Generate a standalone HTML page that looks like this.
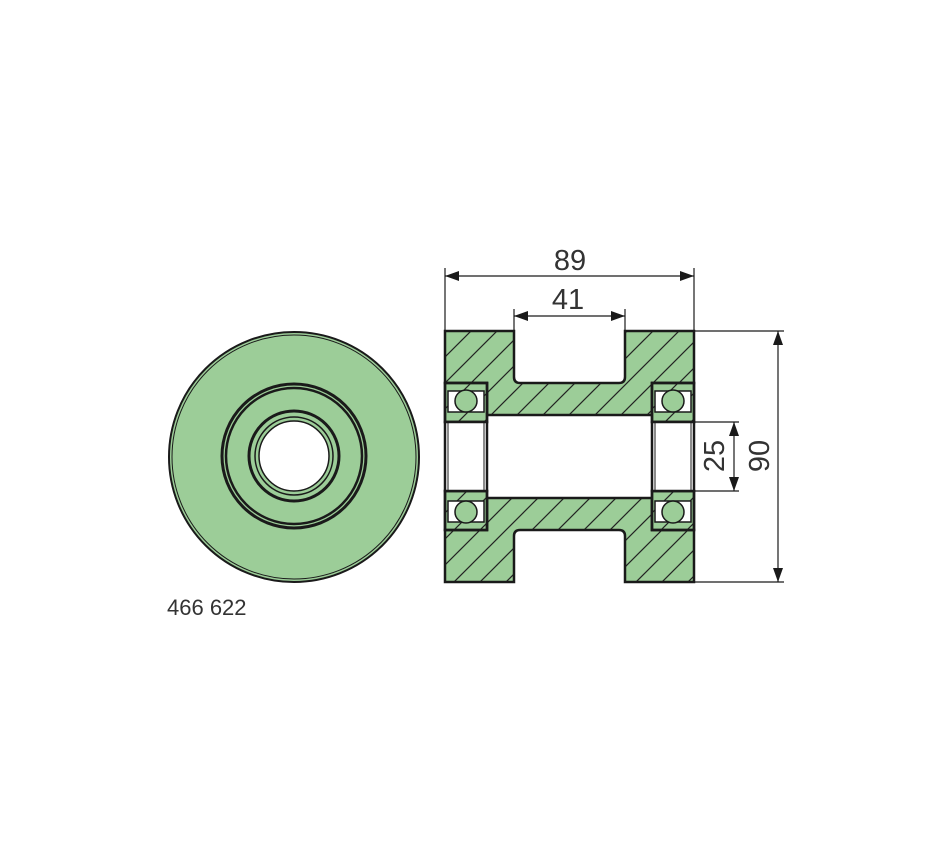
<!DOCTYPE html>
<html><head><meta charset="utf-8"><style>html,body{margin:0;padding:0;background:#fff}svg{display:block}</style></head><body>
<svg width="950" height="860" viewBox="0 0 950 860" xmlns="http://www.w3.org/2000/svg" font-family="'Liberation Sans', sans-serif">
<defs>
<pattern id="h" patternUnits="userSpaceOnUse" width="26" height="26" x="445" y="331">
<line x1="-2" y1="28" x2="28" y2="-2" stroke="#222" stroke-width="1.2"/>
<line x1="-15" y1="15" x2="15" y2="-15" stroke="#222" stroke-width="1.2"/>
<line x1="11" y1="41" x2="41" y2="11" stroke="#222" stroke-width="1.2"/>
</pattern>
</defs>
<g fill="none" stroke="#1a1a1a">
<circle cx="294" cy="457" r="125" fill="#9ccd98" stroke-width="2"/>
<circle cx="294" cy="457" r="122" stroke-width="1"/>
<circle cx="294" cy="456" r="72" stroke-width="3"/>
<circle cx="294" cy="456" r="68" stroke-width="2.5"/>
<circle cx="294" cy="456" r="45" stroke-width="3"/>
<circle cx="294" cy="456" r="39" stroke-width="1.5"/>
<circle cx="294" cy="456" r="35" fill="#fff" stroke-width="1.5"/>
</g>
<text x="167" y="615" font-size="22" fill="#333">466 622</text>
<path d="M445 331 H514 V377 Q514 383 520 383 H619 Q625 383 625 377 V331 H694 V383 H652 V415 H487 V383 H445 Z" fill="#9ccd98" stroke="none"/>
<path d="M445 331 H514 V377 Q514 383 520 383 H619 Q625 383 625 377 V331 H694 V383 H652 V415 H487 V383 H445 Z" fill="url(#h)" stroke="#1a1a1a" stroke-width="2.5"/>
<path d="M445 582 H514 V536 Q514 530 520 530 H619 Q625 530 625 536 V582 H694 V530 H652 V498 H487 V530 H445 Z" fill="#9ccd98" stroke="none"/>
<path d="M445 582 H514 V536 Q514 530 520 530 H619 Q625 530 625 536 V582 H694 V530 H652 V498 H487 V530 H445 Z" fill="url(#h)" stroke="#1a1a1a" stroke-width="2.5"/>
<g stroke="#1a1a1a">
<g>
<rect x="445" y="383" width="42" height="39" fill="#9ccd98" stroke-width="2.5"/>
<rect x="445" y="383" width="42" height="39" fill="url(#h)" stroke-width="2.5"/>
<rect x="448" y="391" width="36" height="21" fill="#fff" stroke-width="1.5"/>
<circle cx="466" cy="401" r="11" fill="#9ccd98" stroke-width="1.5"/>
<rect x="445" y="491" width="42" height="39" fill="#9ccd98" stroke-width="2.5"/>
<rect x="445" y="491" width="42" height="39" fill="url(#h)" stroke-width="2.5"/>
<rect x="448" y="501" width="36" height="21" fill="#fff" stroke-width="1.5"/>
<circle cx="466" cy="512" r="11" fill="#9ccd98" stroke-width="1.5"/>
<rect x="445" y="422" width="42" height="69" fill="#fff" stroke-width="2.5"/>
<rect x="448" y="422" width="36" height="69" fill="none" stroke-width="1"/>
</g>
<g transform="translate(207,0)">
<rect x="445" y="383" width="42" height="39" fill="#9ccd98" stroke-width="2.5"/>
<rect x="445" y="383" width="42" height="39" fill="url(#h)" stroke-width="2.5"/>
<rect x="448" y="391" width="36" height="21" fill="#fff" stroke-width="1.5"/>
<circle cx="466" cy="401" r="11" fill="#9ccd98" stroke-width="1.5"/>
<rect x="445" y="491" width="42" height="39" fill="#9ccd98" stroke-width="2.5"/>
<rect x="445" y="491" width="42" height="39" fill="url(#h)" stroke-width="2.5"/>
<rect x="448" y="501" width="36" height="21" fill="#fff" stroke-width="1.5"/>
<circle cx="466" cy="512" r="11" fill="#9ccd98" stroke-width="1.5"/>
<rect x="445" y="422" width="42" height="69" fill="#fff" stroke-width="2.5"/>
<rect x="448" y="422" width="36" height="69" fill="none" stroke-width="1"/>
</g>
</g>
<g stroke="#1a1a1a" stroke-width="1.2" fill="none">
<line x1="445" y1="268" x2="445" y2="331"/>
<line x1="694" y1="268" x2="694" y2="331"/>
<line x1="445" y1="276" x2="694" y2="276"/>
<line x1="514" y1="309" x2="514" y2="331"/>
<line x1="625" y1="309" x2="625" y2="331"/>
<line x1="514" y1="316" x2="625" y2="316"/>
<line x1="694" y1="331" x2="784" y2="331"/>
<line x1="694" y1="582" x2="784" y2="582"/>
<line x1="778" y1="331" x2="778" y2="582"/>
<line x1="694" y1="422" x2="739" y2="422"/>
<line x1="694" y1="491" x2="739" y2="491"/>
<line x1="734" y1="422" x2="734" y2="491"/>
</g>
<g fill="#1a1a1a">
<path d="M445 276 l14 -5 v10 z"/><path d="M694 276 l-14 -5 v10 z"/>
<path d="M514 316 l14 -5 v10 z"/><path d="M625 316 l-14 -5 v10 z"/>
<path d="M778 331 l-5 14 h10 z"/><path d="M778 582 l-5 -14 h10 z"/>
<path d="M734 422 l-5 14 h10 z"/><path d="M734 491 l-5 -14 h10 z"/>
</g>
<g fill="#333" font-size="29">
<text x="570" y="270" text-anchor="middle">89</text>
<text x="568" y="309" text-anchor="middle">41</text>
<text transform="translate(724,456) rotate(-90)" text-anchor="middle">25</text>
<text transform="translate(769,456) rotate(-90)" text-anchor="middle">90</text>
</g>
</svg>
</body></html>
